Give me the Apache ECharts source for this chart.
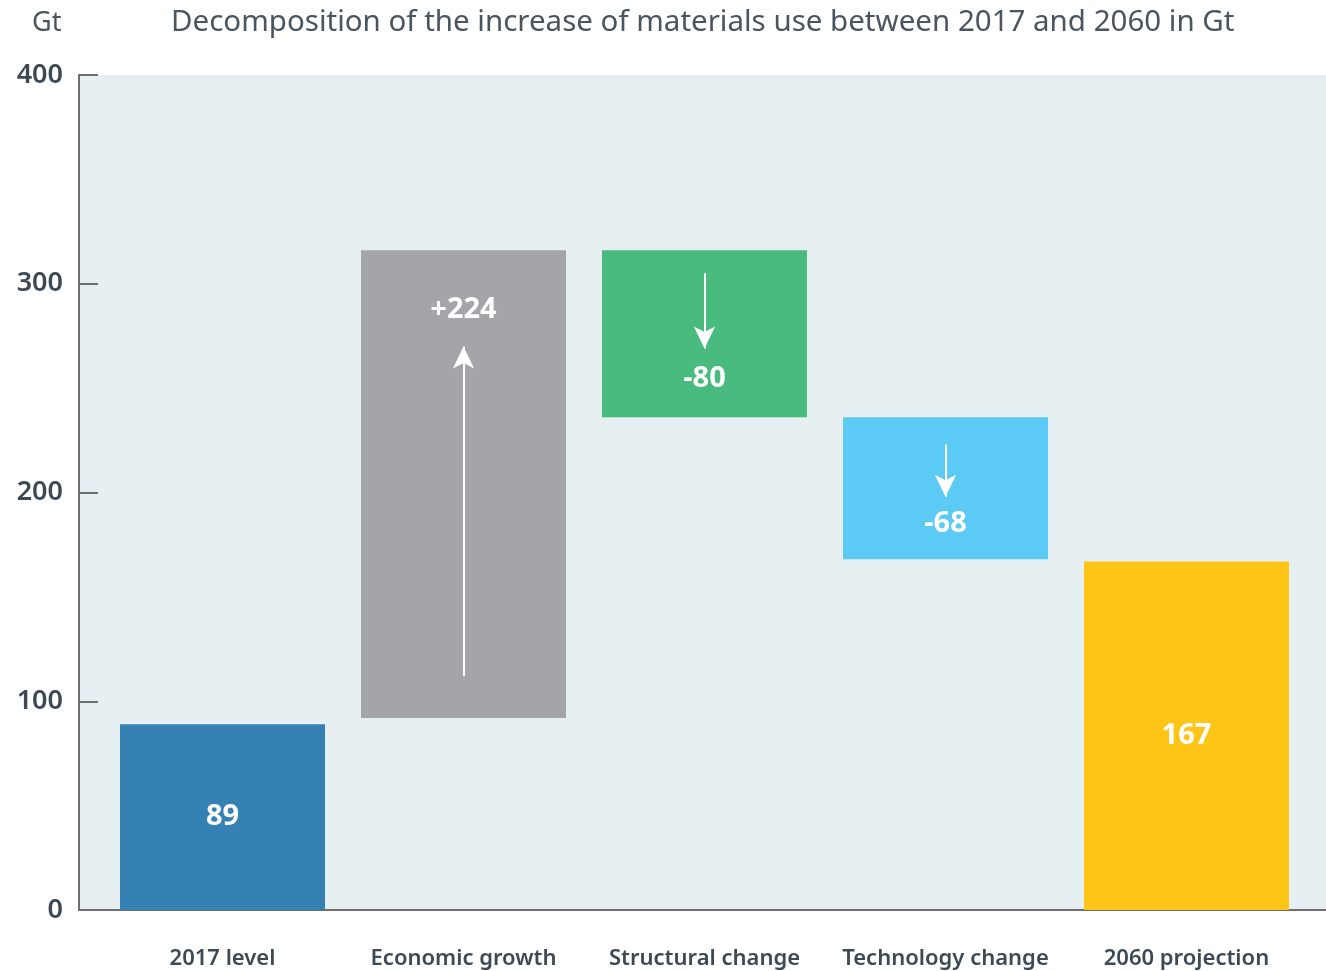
<!DOCTYPE html>
<html>
<head>
<meta charset="utf-8">
<title>Materials use decomposition</title>
<script src="https://cdn.jsdelivr.net/npm/echarts@6/dist/echarts.min.js"></script>
<style>
  html, body { margin: 0; padding: 0; background: #fff; }
  #chart { width: 1326px; height: 971px; }
</style>
</head>
<body>
<div id="chart"></div>
<script>
// chart data
var categories = ['2017 level', 'Economic growth', 'Structural change', 'Technology change', '2060 projection'];
var barBase = [0, 92, 236, 168, 0];          // invisible offset of each bar
var barHeight = [89, 224, 80, 68, 167];      // visible part of each bar
var valueLabels = ['89', '+224', '-80', '-68', '167'];
var barColors = ['#3581B4', '#A4A5A9', '#49BB7F', '#5BCBF5', '#FEC516'];
var yTicks = [0, 100, 200, 300, 400];
// arrows: [category index, from value, to value]
var arrows = [[1, 112, 270], [2, 305, 269], [3, 223, 198]];

var font = 'Noto Sans';
var chart = echarts.init(document.getElementById('chart'));

var labelPos = ['inside', 'insideTop', 'insideBottom', 'insideBottom', 'inside'];
var labelDist = [0, 45, 24, 21, 0];

var visData = barHeight.map(function (v, i) {
  return {
    value: v,
    itemStyle: { color: barColors[i] },
    label: { position: labelPos[i], distance: labelDist[i] }
  };
});

var arrowLines = arrows.map(function (a) {
  return [{ coord: [a[0], a[1]] }, { coord: [a[0], a[2]] }];
});

chart.setOption({
  animation: false,
  textStyle: { fontFamily: font },
  graphic: [
    { type: 'text', left: 32, top: 10, style: { text: 'Gt', fontSize: 27, fill: '#4A5560', fontFamily: font } },
    { type: 'text', left: 171, top: 8, style: { text: 'Decomposition of the increase of materials use between 2017 and 2060 in Gt', fontSize: 29.5, fill: '#4A5560', fontFamily: font } }
  ],
  grid: [
    { left: 79, right: 0, top: 75, bottom: 61, show: true, backgroundColor: '#E6EFF1', borderWidth: 0 },
    { left: 102, right: 19, top: 75, bottom: 61 }
  ],
  xAxis: [
    {
      gridIndex: 0, type: 'value', min: 0, max: 1,
      axisLine: { show: true, onZero: false, lineStyle: { color: '#6E6E6E', width: 2 } },
      axisTick: { show: false }, axisLabel: { show: false }, splitLine: { show: false }
    },
    {
      gridIndex: 1, type: 'category', data: categories,
      axisLine: { show: false }, axisTick: { show: false },
      axisLabel: { interval: 0, margin: 38, fontSize: 22, fontWeight: 600, color: '#3D4A55', fontFamily: font }
    }
  ],
  yAxis: [
    {
      gridIndex: 0, type: 'value', min: yTicks[0], max: yTicks[yTicks.length - 1], interval: 100,
      axisLine: { show: true, lineStyle: { color: '#6E6E6E', width: 2 } },
      axisTick: { show: true, inside: true, length: 19, lineStyle: { color: '#6E6E6E', width: 2 } },
      axisLabel: { margin: 16, fontSize: 27, fontWeight: 600, color: '#3D4A55', fontFamily: font },
      splitLine: { show: false }
    },
    {
      gridIndex: 1, type: 'value', min: yTicks[0], max: yTicks[yTicks.length - 1], show: false
    }
  ],
  series: [
    {
      type: 'bar', xAxisIndex: 1, yAxisIndex: 1, stack: 'w',
      data: barBase, barWidth: 205,
      itemStyle: { color: 'transparent' }, silent: true
    },
    {
      type: 'bar', xAxisIndex: 1, yAxisIndex: 1, stack: 'w',
      data: visData, barWidth: 205,
      label: {
        show: true, color: '#fff', fontSize: 29, fontWeight: 'bold', fontFamily: font,
        formatter: function (p) { return valueLabels[p.dataIndex]; }
      },
      markLine: {
        silent: true, symbol: ['none', 'arrow'], symbolSize: [16, 22],
        label: { show: false },
        lineStyle: { color: '#fff', width: 2, type: 'solid' },
        data: arrowLines
      }
    }
  ]
});
</script>
</body>
</html>
